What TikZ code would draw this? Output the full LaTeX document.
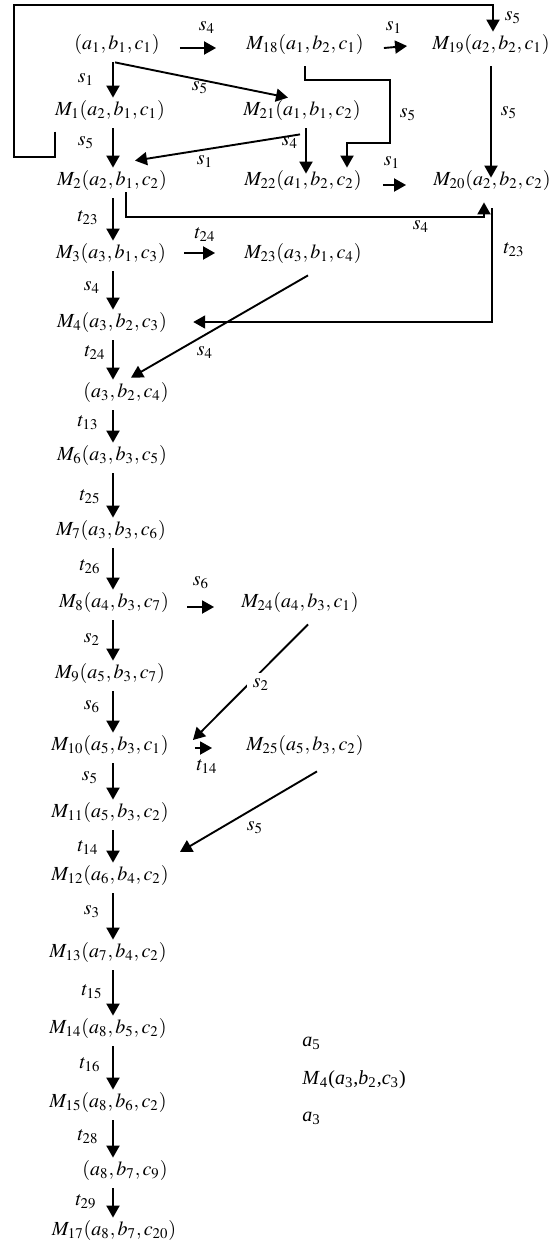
\documentclass[tikz,border=0pt]{standalone}
\usepackage{mathptmx}
\usepackage{fontspec}
\setmainfont{Liberation Serif}
\usepackage{tikz}
\usetikzlibrary{arrows.meta,positioning,calc}
\tikzset{
  st/.style ={fill=white,inner sep=1pt,font=\normalsize},
  lbl/.style={inner sep=0.5pt,font=\normalsize},
  arr/.style={-{Triangle[length=6pt,width=6.5pt]},line width=0.95pt,draw=black},
  down/.style={arr,shorten <=3pt}
}
\begin{document}
\begin{tikzpicture}[x=0.5pt,y=-0.5pt]
  \useasboundingbox (0,0) rectangle (559,1243);
  \coordinate (col) at (113,0);
  % main chain (left column)
  \node[st] (S0)  at (117,44)   {$(a_1,b_1,c_1)$};
  \node[st] (M1)  at (110,110)  {$M_1(a_2,b_1,c_1)$};
  \node[st] (M2)  at (112,180)  {$M_2(a_2,b_1,c_2)$};
  \node[st] (M3)  at (111,253)  {$M_3(a_3,b_1,c_3)$};
  \node[st] (M4)  at (112,322)  {$M_4(a_3,b_2,c_3)$};
  \node[st] (S5)  at (126,392)  {$(a_3,b_2,c_4)$};
  \node[st] (M6)  at (112,455)  {$M_6(a_3,b_3,c_5)$};
  \node[st] (M7)  at (111,530)  {$M_7(a_3,b_3,c_6)$};
  \node[st] (M8)  at (114,602)  {$M_8(a_4,b_3,c_7)$};
  \node[st] (M9)  at (110,673)  {$M_9(a_5,b_3,c_7)$};
  \node[st] (M10) at (110,745)  {$M_{10}(a_5,b_3,c_1)$};
  \node[st] (M11) at (110,812)  {$M_{11}(a_5,b_3,c_2)$};
  \node[st] (M12) at (110,875)  {$M_{12}(a_6,b_4,c_2)$};
  \node[st] (M13) at (108,952)  {$M_{13}(a_7,b_4,c_2)$};
  \node[st] (M14) at (108,1028) {$M_{14}(a_8,b_5,c_2)$};
  \node[st] (M15) at (108,1102) {$M_{15}(a_8,b_6,c_2)$};
  \node[st] (S16) at (125,1170) {$(a_8,b_7,c_9)$};
  \node[st] (M17) at (114,1230) {$M_{17}(a_8,b_7,c_{20})$};
  % side branches
  \node[st] (M18) at (305,44)  {$M_{18}(a_1,b_2,c_1)$};
  \node[st] (M19) at (491,44)  {$M_{19}(a_2,b_2,c_1)$};
  \node[st] (M21) at (302,110) {$M_{21}(a_1,b_1,c_2)$};
  \node[st] (M22) at (303,180) {$M_{22}(a_1,b_2,c_2)$};
  \node[st] (M20) at (492,180) {$M_{20}(a_2,b_2,c_2)$};
  \node[st] (M23) at (303,253) {$M_{23}(a_3,b_1,c_4)$};
  \node[st] (M24) at (300,602) {$M_{24}(a_4,b_3,c_1)$};
  \node[st] (M25) at (305,745) {$M_{25}(a_5,b_3,c_2)$};
  % loose notes
  \node[st,anchor=west] (n1) at (300,1043) {\textit{a}\textsubscript{5}};
  \node[st,anchor=west] (n2) at (300,1080) {\textit{M}\textsubscript{4}(\textit{a}\textsubscript{3},\textit{b}\textsubscript{2},\textit{c}\textsubscript{3})};
  \node[st,anchor=west] (n3) at (300,1118) {\textit{a}\textsubscript{3}};

  % vertical arrows of the chain
  \draw[down] (S0.south -| col)  -- (M1.north -| col);
  \draw[down] (M1.south -| col)  -- (M2.north -| col);
  \draw[down] (M2.south -| col)  -- (M3.north -| col);
  \draw[down] (M3.south -| col)  -- (M4.north -| col);
  \draw[down] (M4.south -| col)  -- (S5.north -| col);
  \draw[down] (S5.south -| col)  -- (M6.north -| col);
  \draw[down] (M6.south -| col)  -- (M7.north -| col);
  \draw[down] (M7.south -| col)  -- (M8.north -| col);
  \draw[down] (M8.south -| col)  -- (M9.north -| col);
  \draw[down] (M9.south -| col)  -- (M10.north -| col);
  \draw[down] (M10.south -| col) -- (M11.north -| col);
  \draw[down] (M11.south -| col) -- (M12.north -| col);
  \draw[down] (M12.south -| col) -- (M13.north -| col);
  \draw[down] (M13.south -| col) -- (M14.north -| col);
  \draw[down] (M14.south -| col) -- (M15.north -| col);
  \draw[down] (M15.south -| col) -- (S16.north -| col);
  \draw[down] (S16.south -| col) -- (M17.north -| col);

  % short horizontal arrows
  \draw[arr,shorten <=9pt,shorten >=14pt] ([yshift=-2pt]S0.east) -- ([yshift=-2pt]M18.west);
  \draw[arr] ([shift={(9pt,-2pt)}]M18.east) -- ([shift={(-11.5pt,-1pt)}]M19.west);
  \draw[arr,shorten <=9.5pt,shorten >=12.5pt] ([yshift=-2.5pt]M22.east) -- ([yshift=-2.5pt]M20.west);
  \draw[arr,shorten <=8pt,shorten >=13.5pt] (M3.east) -- (M23.west);
  \draw[arr,shorten <=8pt,shorten >=12.5pt] ([yshift=-2.5pt]M8.east) -- ([yshift=-2.5pt]M24.west);
  \draw[arr,shorten <=12pt,shorten >=16pt] ([yshift=-1.5pt]M10.east) -- ([yshift=-1.5pt]M25.west);

  % diagonal and bent arrows
  \draw[arr] ([shift={(-1pt,-3pt)}]S0.south) -- ([shift={(-7pt,0pt)}]M21.north);
  \draw[arr] ([shift={(-1pt,-6pt)}]M21.south) -- ([shift={(11.5pt,3.5pt)}]M2.north);
  \draw[arr] ([shift={(2pt,-3pt)}]M21.south) -- ([shift={(2pt,-3pt)}]M21.south |- M22.north);
  \draw[arr] ([yshift=-5pt]M18.south) |- (390,80) |- (347,143) -- ([xshift=22pt]M22.north);
  \draw[arr] ([yshift=-5pt]M19.south) -- ([yshift=-5pt]M19.south |- M20.north);
  \draw[arr] ([yshift=18pt]M2.north west) |- (14,157) |- (493,5) -- ([xshift=1pt]M19.north);
  \draw[arr] ([xshift=7pt]M2.south) -- ++(0,25) -| ([shift={(-4pt,-5pt)}]M20.south);
  \draw[arr] ([yshift=-8pt]M20.south) |- ([xshift=12pt]M4.east);
  \draw[arr] ([shift={(2.5pt,-5pt)}]M23.south) -- ([shift={(2.5pt,1pt)}]S5.north);
  \draw[arr] ([shift={(4pt,-5pt)}]M24.south) -- ([shift={(11pt,2.5pt)}]M10.east);
  \draw[arr] ([shift={(6pt,-7pt)}]M25.south) -- ([shift={(4.5pt,11.5pt)}]M12.east);

  % transition labels
  \node[lbl] (l1)  at (513,18)   {$s_5$};
  \node[lbl] (l2)  at (207,28)   {$s_4$};
  \node[lbl] (l3)  at (394,28)   {$s_1$};
  \node[lbl] (l4)  at (86,80)    {$s_1$};
  \node[lbl] (l5)  at (200,88)   {$s_5$};
  \node[lbl] (l6)  at (408,115)  {$s_5$};
  \node[lbl] (l7)  at (509,113)  {$s_5$};
  \node[lbl] (l8)  at (86,143)   {$s_5$};
  \node[lbl] (l9)  at (205,162)  {$s_1$};
  \node[lbl] (l10) at (290,143)  {$s_4$};
  \node[lbl] (l11) at (392,163)  {$s_1$};
  \node[lbl] (l12) at (88,218)   {$t_{23}$};
  \node[lbl] (l13) at (421,227)  {$s_4$};
  \node[lbl] (l14) at (205,235)  {$t_{24}$};
  \node[lbl] (l15) at (514,250)  {$t_{23}$};
  \node[lbl] (l16) at (92,288)   {$s_4$};
  \node[lbl] (l17) at (95,353)   {$t_{24}$};
  \node[lbl] (l18) at (205,353)  {$s_4$};
  \node[lbl] (l19) at (88,423)   {$t_{13}$};
  \node[lbl] (l20) at (90,497)   {$t_{25}$};
  \node[lbl] (l21) at (90,567)   {$t_{26}$};
  \node[lbl] (l22) at (201,583)  {$s_6$};
  \node[lbl] (l23) at (92,640)   {$s_2$};
  \node[lbl,fill=white,inner sep=3pt] (l24) at (261,685) {$s_2$};
  \node[lbl] (l25) at (92,707)   {$s_6$};
  \node[lbl] (l26) at (207,767)  {$t_{14}$};
  \node[lbl] (l27) at (90,778)   {$s_5$};
  \node[lbl] (l28) at (255,828)  {$s_5$};
  \node[lbl] (l29) at (88,848)   {$t_{14}$};
  \node[lbl] (l30) at (92,912)   {$s_3$};
  \node[lbl] (l31) at (92,992)   {$t_{15}$};
  \node[lbl] (l32) at (90,1065)  {$t_{16}$};
  \node[lbl] (l33) at (88,1137)  {$t_{28}$};
  \node[lbl] (l34) at (86,1202)  {$t_{29}$};
\end{tikzpicture}
\end{document}
